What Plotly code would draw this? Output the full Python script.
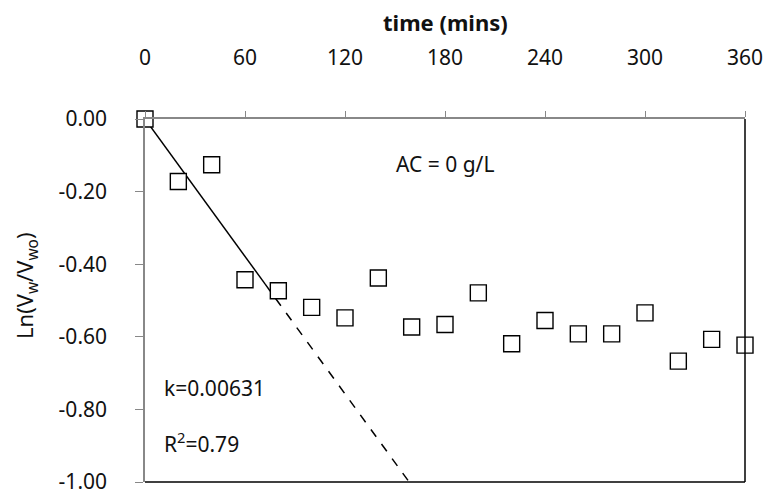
import plotly.graph_objects as go

time_min = [0, 20, 40, 60, 80, 100, 120, 140, 160, 180, 200, 220, 240, 260, 280, 300, 320, 340, 360]
ln_ratio = [0.0, -0.172, -0.126, -0.443, -0.473, -0.519, -0.548, -0.438, -0.573, -0.566,
            -0.479, -0.619, -0.555, -0.592, -0.592, -0.534, -0.667, -0.607, -0.623]
k = 0.00631
fit_solid_t = [0, 72]
fit_dash_t = [72, 158.5]
x_ticks = [0, 60, 120, 180, 240, 300, 360]
y_ticks = [0.0, -0.2, -0.4, -0.6, -0.8, -1.0]
y_ticktext = ["0.00", "-0.20", "-0.40", "-0.60", "-0.80", "-1.00"]

FONT = "Noto Sans"
FS = 22
TFS = 21

fig = go.Figure()
fig.add_trace(go.Scatter(x=fit_solid_t, y=[-k * t for t in fit_solid_t], mode="lines",
                         line=dict(color="black", width=1.5), showlegend=False))
fig.add_trace(go.Scatter(x=fit_dash_t, y=[-k * t for t in fit_dash_t], mode="lines",
                         line=dict(color="black", width=1.5, dash="dash"), showlegend=False))
fig.add_trace(go.Scatter(x=time_min, y=ln_ratio, mode="markers",
                         marker=dict(symbol="square", size=16, color="white",
                                     line=dict(color="black", width=1.4)),
                         showlegend=False, cliponaxis=False))

fig.update_layout(
    width=768, height=495,
    margin=dict(l=145, r=23, t=119, b=13, autoexpand=False),
    paper_bgcolor="white", plot_bgcolor="white",
    font=dict(family=FONT, size=FS, color="#111111"),
    xaxis=dict(side="top", range=[0, 360], tickvals=x_ticks, ticks="outside",
               ticklen=6, tickcolor="#888888", showline=True, linecolor="#888888",
               linewidth=1.5, showgrid=False, zeroline=False, ticklabelstandoff=38,
               tickfont=dict(size=TFS), automargin=False, ticklabeloverflow="allow"),
    yaxis=dict(range=[-1.0, 0.0], tickvals=y_ticks, ticktext=y_ticktext, ticks="outside",
               ticklen=8, tickcolor="#888888", showline=True, linecolor="#888888",
               linewidth=1.5, showgrid=False, zeroline=False, ticklabelstandoff=24,
               tickfont=dict(size=TFS), automargin=False, ticklabeloverflow="allow"),
    shapes=[
        dict(type="line", xref="x domain", yref="y domain", x0=1, x1=1, y0=0, y1=1,
             line=dict(color="black", width=1.5)),
        dict(type="line", xref="x domain", yref="y domain", x0=0, x1=1, y0=0, y1=0,
             line=dict(color="black", width=1.5)),
    ],
    annotations=[
        dict(text="<b>time (mins)</b>", xref="paper", yref="paper", x=0.5, y=1,
             yanchor="middle", xanchor="center", yshift=97, showarrow=False,
             font=dict(size=FS)),
        dict(text="Ln(V<sub>w</sub>/V<sub>wo</sub>)", xref="paper", yref="paper",
             x=0, y=0.54, xanchor="center", yanchor="middle", xshift=-119, textangle=-90,
             showarrow=False, font=dict(size=FS)),
        dict(text="AC = 0 g/L", x=180, y=-0.123, xref="x", yref="y", showarrow=False,
             xanchor="center", font=dict(size=FS - 1)),
        dict(text="k=0.00631", x=10, y=-0.74, xref="x", yref="y", showarrow=False,
             xanchor="left", font=dict(size=FS - 1)),
        dict(text="R<sup>2</sup>=0.79", x=10, y=-0.89, xref="x", yref="y", showarrow=False,
             xanchor="left", font=dict(size=FS - 1)),
    ],
)

fig.write_html("out.html")
